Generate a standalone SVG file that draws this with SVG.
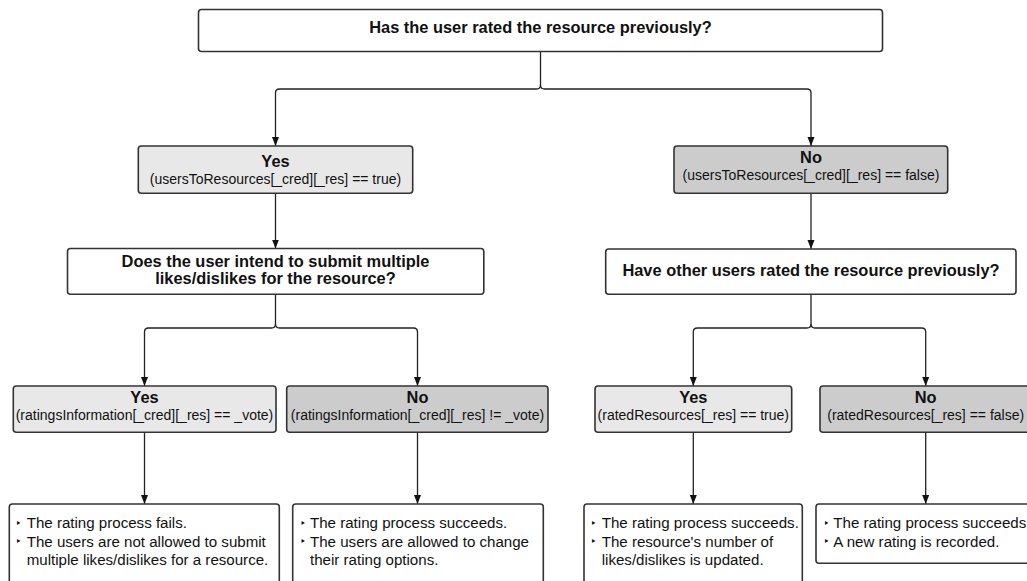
<svg xmlns="http://www.w3.org/2000/svg" width="1027" height="581" viewBox="0 0 1027 581">
<defs>
<style>
.box{stroke:#333;stroke-width:1.6;}
.w{fill:#fff;}
.yes{fill:#e8e8e8;}
.no{fill:#cccccc;}
.b{font-family:"Liberation Sans",Arial,sans-serif;font-weight:bold;font-size:16.4px;fill:#111;text-anchor:middle;}
.r{font-family:"Liberation Sans",Arial,sans-serif;font-size:14px;fill:#111;text-anchor:middle;}
.t{font-family:"Liberation Sans",Arial,sans-serif;font-size:15.1px;fill:#111;}
.bl{font-family:"DejaVu Sans","Liberation Sans",sans-serif;font-size:10px;fill:#111;}
.c{fill:none;stroke:#222;stroke-width:1.3;}
</style>
<marker id="ah" markerUnits="userSpaceOnUse" markerWidth="9" markerHeight="8" viewBox="0 0 9 8" refX="9" refY="4" orient="auto">
<path d="M0,0.5 L9,4 L0,7.5 z" fill="#111"/>
</marker>
</defs>
<rect width="1027" height="581" fill="#fff"/>

<g id="connectors">
<path class="c" d="M540.5,51.5 V85 Q540.5,89 536.5,89 H279.5 Q275.5,89 275.5,93 V146" marker-end="url(#ah)"/>
<path class="c" d="M540.5,85 Q540.5,89 544.5,89 H807 Q811,89 811,93 V146" marker-end="url(#ah)"/>
<path class="c" d="M275.5,193.5 V248.5" marker-end="url(#ah)"/>
<path class="c" d="M811,193.5 V249" marker-end="url(#ah)"/>
<path class="c" d="M275.5,294.5 V324 Q275.5,328 271.5,328 H148.5 Q144.5,328 144.5,332 V386" marker-end="url(#ah)"/>
<path class="c" d="M275.5,324 Q275.5,328 279.5,328 H413.5 Q417.5,328 417.5,332 V386" marker-end="url(#ah)"/>
<path class="c" d="M811,294.5 V324 Q811,328 807,328 H697.3 Q693.3,328 693.3,332 V386" marker-end="url(#ah)"/>
<path class="c" d="M811,324 Q811,328 815,328 H921.7 Q925.7,328 925.7,332 V386" marker-end="url(#ah)"/>
<path class="c" d="M144.5,432.5 V504" marker-end="url(#ah)"/>
<path class="c" d="M417.5,432.5 V504" marker-end="url(#ah)"/>
<path class="c" d="M693.3,432.5 V504" marker-end="url(#ah)"/>
<path class="c" d="M925.7,432.5 V504" marker-end="url(#ah)"/>
</g>

<g id="q1">
<rect class="box w" x="198.5" y="9.5" width="684" height="42" rx="3"/>
<text class="b" x="540.5" y="33.3">Has the user rated the resource previously?</text>
</g>

<g id="yes1">
<rect class="box yes" x="138.3" y="146" width="274.4" height="47.3" rx="3"/>
<text class="b" x="275.5" y="166.7">Yes</text>
<text class="r" x="275.5" y="183.5">(usersToResources[_cred][_res] == true)</text>
</g>

<g id="no1">
<rect class="box no" x="674" y="146" width="273.7" height="47.3" rx="3"/>
<text class="b" x="811" y="162.7">No</text>
<text class="r" x="811" y="180">(usersToResources[_cred][_res] == false)</text>
</g>

<g id="q2">
<rect class="box w" x="67.5" y="248.5" width="416.3" height="45.8" rx="3"/>
<text class="b" x="275.5" y="266.5">Does the user intend to submit multiple</text>
<text class="b" x="275.5" y="283.5">likes/dislikes for the resource?</text>
</g>

<g id="q3">
<rect class="box w" x="605.7" y="249" width="410.3" height="45.3" rx="3"/>
<text class="b" x="811" y="275.5">Have other users rated the resource previously?</text>
</g>

<g id="yes2">
<rect class="box yes" x="13.3" y="386" width="262.7" height="46.3" rx="3"/>
<text class="b" x="144.5" y="402.7">Yes</text>
<text class="r" x="144.5" y="420">(ratingsInformation[_cred][_res] == _vote)</text>
</g>

<g id="no2">
<rect class="box no" x="286.7" y="386" width="261.3" height="46.3" rx="3"/>
<text class="b" x="417.5" y="402.7">No</text>
<text class="r" x="417.5" y="420">(ratingsInformation[_cred][_res] != _vote)</text>
</g>

<g id="yes3">
<rect class="box yes" x="595" y="386" width="196.7" height="46.3" rx="3"/>
<text class="b" x="693.3" y="402.7">Yes</text>
<text class="r" x="693.3" y="420">(ratedResources[_res] == true)</text>
</g>

<g id="no3">
<rect class="box no" x="820" y="386" width="211.4" height="46.3" rx="3"/>
<text class="b" x="925.7" y="402.7">No</text>
<text class="r" x="925.7" y="420">(ratedResources[_res] == false)</text>
</g>

<g id="out1">
<rect class="box w" x="9.3" y="504" width="270" height="90" rx="3"/>
<text class="bl" x="15.5" y="527">‣</text>
<text class="t" x="26.7" y="528.3">The rating process fails.</text>
<text class="bl" x="15.5" y="545.4">‣</text>
<text class="t" x="26.7" y="546.7">The users are not allowed to submit</text>
<text class="t" x="26.7" y="565">multiple likes/dislikes for a resource.</text>
</g>

<g id="out2">
<rect class="box w" x="292.7" y="504" width="250.6" height="90" rx="3"/>
<text class="bl" x="300" y="527">‣</text>
<text class="t" x="310" y="528.3">The rating process succeeds.</text>
<text class="bl" x="300" y="545.4">‣</text>
<text class="t" x="310" y="546.7">The users are allowed to change</text>
<text class="t" x="310" y="565">their rating options.</text>
</g>

<g id="out3">
<rect class="box w" x="584" y="504" width="218.3" height="90" rx="3"/>
<text class="bl" x="590.5" y="527">‣</text>
<text class="t" x="601.7" y="528.3">The rating process succeeds.</text>
<text class="bl" x="590.5" y="545.4">‣</text>
<text class="t" x="601.7" y="546.7">The resource's number of</text>
<text class="t" x="601.7" y="565">likes/dislikes is updated.</text>
</g>

<g id="out4">
<rect class="box w" x="816" y="504" width="225" height="59.3" rx="3"/>
<text class="bl" x="823.5" y="527">‣</text>
<text class="t" x="833.3" y="528.3">The rating process succeeds.</text>
<text class="bl" x="823.5" y="545.4">‣</text>
<text class="t" x="833.3" y="546.7">A new rating is recorded.</text>
</g>
</svg>
